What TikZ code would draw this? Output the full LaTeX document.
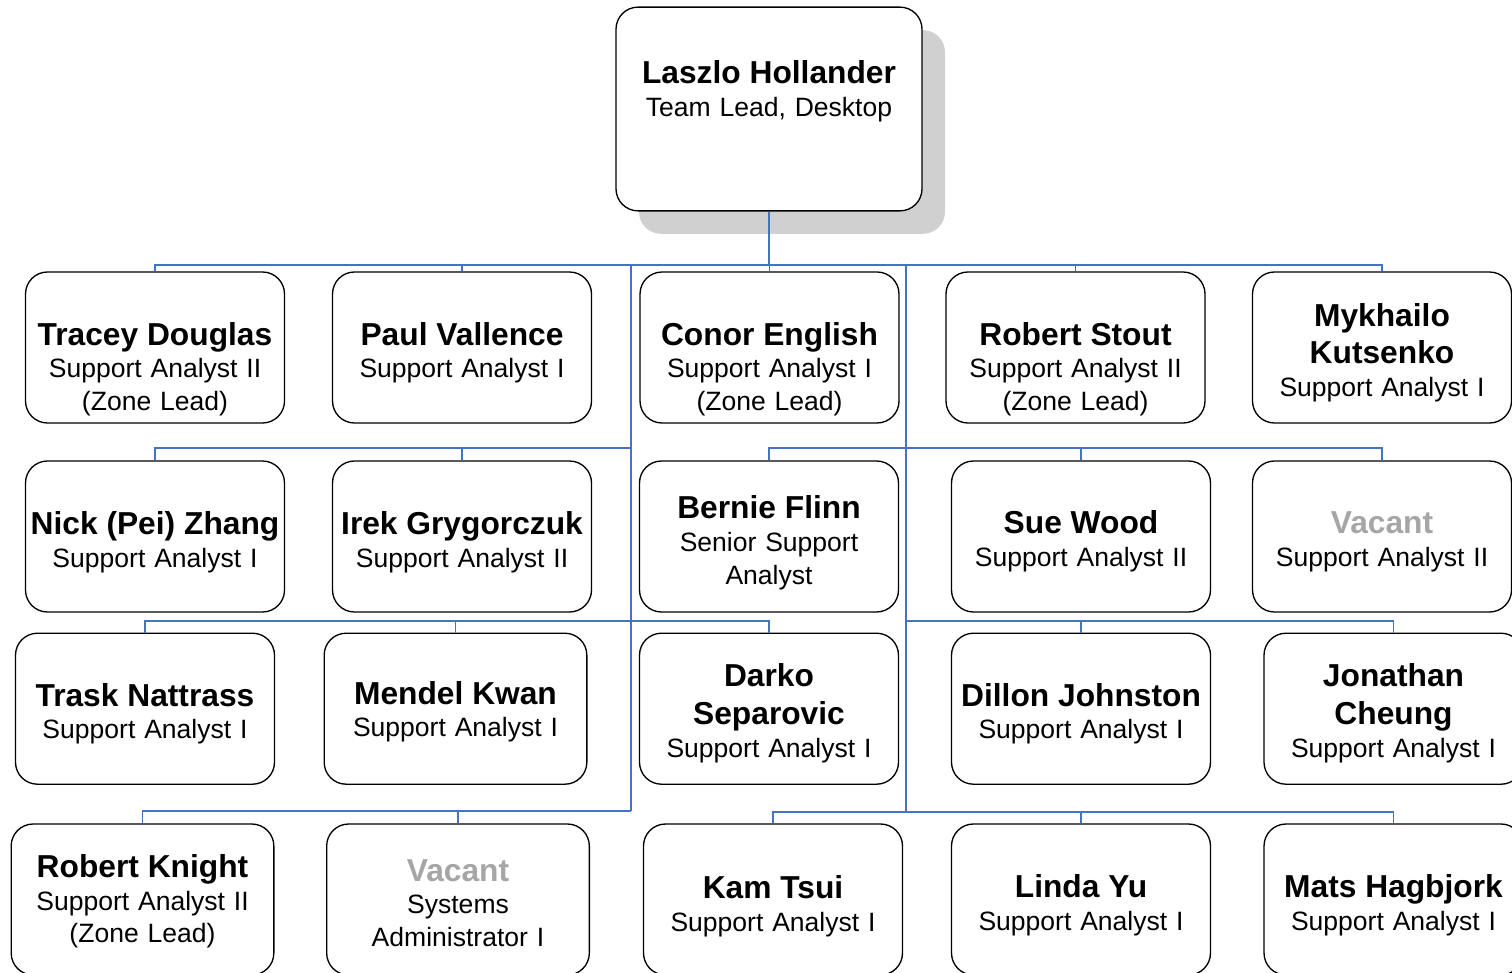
\documentclass[tikz,border=0pt]{standalone}
\usepackage{fontspec}
\setmainfont{Liberation Sans}
\usetikzlibrary{shadows}
\definecolor{connblue}{RGB}{68,114,196}
\definecolor{vacantgray}{RGB}{166,166,166}
\definecolor{shadowgray}{RGB}{208,208,208}
\newcommand\namefnt{\fontsize{23.8pt}{24.6pt}\selectfont\bfseries}
\newcommand\subfnt{\fontsize{19.9pt}{24.6pt}\selectfont}
\begin{document}
\begin{tikzpicture}[x=0.75pt,y=-0.75pt,
  card/.style={rectangle, draw=black, line width=1pt, fill=white, rounded corners=16.5pt,
    minimum width=194.25pt, minimum height=113.25pt, inner sep=0pt},
  widecard/.style={card, minimum width=197pt},
  leadcard/.style={card, minimum width=229.5pt, minimum height=152.8pt,
    drop shadow={shadow xshift=17.25pt, shadow yshift=-17.25pt, fill=shadowgray, opacity=1}},
  txt/.style={text width=215pt, align=center, inner sep=0pt, anchor=base, font=\subfnt},
  conn/.style={draw=connblue, line width=1.2pt}]
\useasboundingbox (0,0) rectangle (1512,973);
\clip (0,0) rectangle (1512,973);

% ---- boxes ----
\node[leadcard] (lead) at (769,109) {};

\node[card] (b11) at (155,347.5) {};
\node[card] (b12) at (462,347.5) {};
\node[card] (b13) at (769.5,347.5) {};
\node[card] (b14) at (1075.5,347.5) {};
\node[card] (b15) at (1382,347.5) {};

\node[card] (b21) at (155,536.5) {};
\node[card] (b22) at (462,536.5) {};
\node[card] (b23) at (769,536.5) {};
\node[card] (b24) at (1081,536.5) {};
\node[card] (b25) at (1382,536.5) {};

\node[card] (b31) at (145,708.7) {};
\node[widecard] (b32) at (455.5,708.7) {};
\node[card] (b33) at (769,708.7) {};
\node[card] (b34) at (1081,708.7) {};
\node[card] (b35) at (1393.5,708.7) {};

\node[widecard] (b41) at (142.5,899.5) {};
\node[widecard] (b42) at (458,899.5) {};
\node[card] (b43) at (773,899.5) {};
\node[card] (b44) at (1081,899.5) {};
\node[card] (b45) at (1393.5,899.5) {};

% ---- junctions ----
\coordinate (j0) at (769,265);
\coordinate (jl) at (631,265);
\coordinate (jr) at (906,265);
\coordinate (r2l) at (631,448);
\coordinate (r2r) at (906,448);
\coordinate (r3l) at (631,621);
\coordinate (r3r) at (906,621);
\coordinate (jlb) at (631,811);
\coordinate (jrb) at (906,812);

% ---- connectors ----
\draw[conn] (lead.south) -- (j0);
\draw[conn] (b11.north) -- (b11.north |- j0) -- (b15.north |- j0) -- (b15.north);
\draw[conn] (b12.north) -- (b12.north |- j0);
\draw[conn] (b13.north) -- (b13.north |- j0);
\draw[conn] (b14.north) -- (b14.north |- j0);
\draw[conn] (jl) -- (jlb);
\draw[conn] (jr) -- (jrb);

\draw[conn] (b21.north) -- (b21.north |- r2l) -- (r2l);
\draw[conn] (b22.north) -- (b22.north |- r2l);
\draw[conn] (b23.north) -- (b23.north |- r2r) -- (b25.north |- r2r) -- (b25.north);
\draw[conn] (b24.north) -- (b24.north |- r2r);

\draw[conn] (b31.north) -- (b31.north |- r3l) -- (b33.north |- r3l) -- (b33.north);
\draw[conn] (b32.north) -- (b32.north |- r3l);
\draw[conn] (r3r) -- (b35.north |- r3r) -- (b35.north);
\draw[conn] (b34.north) -- (b34.north |- r3r);

\draw[conn] (b41.north) -- (b41.north |- jlb) -- (jlb);
\draw[conn] (b42.north) -- (b42.north |- jlb);
\draw[conn] (b43.north) -- (b43.north |- jrb) -- (b45.north |- jrb) -- (b45.north);
\draw[conn] (b44.north) -- (b44.north |- jrb);

% ---- texts ----
\node[txt] (tlead) at (769,84) {{\namefnt Laszlo Hollander}\\Team Lead, Desktop};

\node[txt] (t11) at (155,345) {{\namefnt Tracey Douglas}\\Support Analyst II\\(Zone Lead)};
\node[txt] (t12) at (462,345) {{\namefnt Paul Vallence}\\Support Analyst I};
\node[txt] (t13) at (769.5,345) {{\namefnt Conor English}\\Support Analyst I\\(Zone Lead)};
\node[txt] (t14) at (1075.5,345) {{\namefnt Robert Stout}\\Support Analyst II\\(Zone Lead)};
\node[txt] (t15) at (1382,326) {{\namefnt Mykhailo}\\[3.8pt]{\namefnt Kutsenko}\\Support Analyst I};

\node[txt] (t21) at (155,534.5) {{\namefnt Nick (Pei) Zhang}\\Support Analyst I};
\node[txt] (t22) at (462,534.5) {{\namefnt Irek Grygorczuk}\\Support Analyst II};
\node[txt] (t23) at (769,518.5) {{\namefnt Bernie Flinn}\\Senior Support\\Analyst};
\node[txt] (t24) at (1081,533.5) {{\namefnt Sue Wood}\\Support Analyst II};
\node[txt] (t25) at (1382,533.5) {{\namefnt\color{vacantgray}Vacant}\\Support Analyst II};

\node[txt] (t31) at (145,706) {{\namefnt Trask Nattrass}\\Support Analyst I};
\node[txt] (t32) at (455.5,704) {{\namefnt Mendel Kwan}\\Support Analyst I};
\node[txt] (t33) at (769,686.7) {{\namefnt Darko}\\[3.8pt]{\namefnt Separovic}\\Support Analyst I};
\node[txt] (t34) at (1081,706) {{\namefnt Dillon Johnston}\\Support Analyst I};
\node[txt] (t35) at (1393.5,686.7) {{\namefnt Jonathan}\\[3.8pt]{\namefnt Cheung}\\Support Analyst I};

\node[txt] (t41) at (142.5,877.3) {{\namefnt Robert Knight}\\Support Analyst II\\(Zone Lead)};
\node[txt] (t42) at (458,881) {{\namefnt\color{vacantgray}Vacant}\\Systems\\Administrator I};
\node[txt] (t43) at (773,898.5) {{\namefnt Kam Tsui}\\Support Analyst I};
\node[txt] (t44) at (1081,897.7) {{\namefnt Linda Yu}\\Support Analyst I};
\node[txt] (t45) at (1393.5,897.7) {{\namefnt Mats Hagbjork}\\Support Analyst I};
\end{tikzpicture}
\end{document}
